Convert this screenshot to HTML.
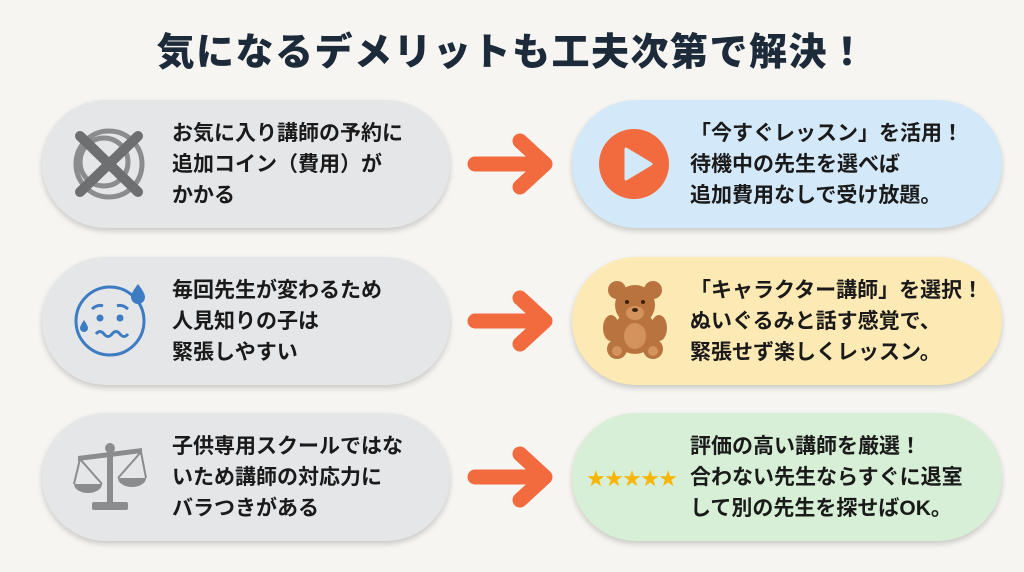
<!DOCTYPE html>
<html><head><meta charset="utf-8"><style>
body{margin:0;width:1024px;height:572px;background:#f6f5f1;overflow:hidden;position:relative;font-family:"Liberation Sans","Noto Sans CJK JP",sans-serif;}
.t{position:absolute;left:0;width:1024px;top:28px;text-align:center;font-size:38px;font-weight:900;color:#1c2a3a;letter-spacing:1.5px;line-height:50px;}
.p{position:absolute;height:128px;border-radius:64px;box-shadow:0 3px 6px rgba(0,0,0,.18);}
.l{left:42px;width:408px;background:#e5e6e8;}
.r{left:572px;width:430px;}
.tx{position:absolute;font-size:21px;font-weight:bold;color:#1a1a1a;line-height:31px;white-space:nowrap;}
svg{position:absolute;}
</style></head><body>
<div class="t">気になるデメリットも工夫次第で解決！</div>

<div class="p l" style="top:100px"></div>
<div class="p l" style="top:257px"></div>
<div class="p l" style="top:413px"></div>
<div class="p r" style="top:100px;background:#d3e8f8"></div>
<div class="p r" style="top:257px;background:#fde9b3"></div>
<div class="p r" style="top:413px;background:#d7eed7"></div>

<div class="tx" style="left:172px;top:118px">お気に入り講師の予約に<br>追加コイン（費用）が<br>かかる</div>
<div class="tx" style="left:172px;top:275px">毎回先生が変わるため<br>人見知りの子は<br>緊張しやすい</div>
<div class="tx" style="left:172px;top:431px">子供専用スクールではな<br>いため講師の対応力に<br>バラつきがある</div>
<div class="tx" style="left:690px;top:118px">「今すぐレッスン」を活用！<br>待機中の先生を選べば<br>追加費用なしで受け放題。</div>
<div class="tx" style="left:690px;top:275px">「キャラクター講師」を選択！<br>ぬいぐるみと話す感覚で、<br>緊張せず楽しくレッスン。</div>
<div class="tx" style="left:690px;top:431px">評価の高い講師を厳選！<br>合わない先生ならすぐに退室<br>して別の先生を探せばOK。</div>

<svg width="1024" height="572" style="left:0;top:0">
<g stroke="#f26b3e" stroke-width="15" stroke-linecap="round" stroke-linejoin="round" fill="none">
<path d="M475 164H543M520 141L545 164L520 187"/>
<path d="M475 321H543M520 298L545 321L520 344"/>
<path d="M475 477H543M520 454L545 477L520 500"/>
</g>
<g fill="none" stroke="#8b8c8e" stroke-width="5">
<circle cx="109" cy="164" r="33"/>
<circle cx="104" cy="162" r="24"/>
</g>
<g stroke="#6e6f71" stroke-width="10" stroke-linecap="round">
<path d="M80 136L138 192M138 136L80 192"/>
</g>
<g fill="none" stroke="#3d7cc2" stroke-width="3">
<circle cx="110" cy="321" r="34"/>
<path d="M92 309q6-5 11-3M128 309q-6-5-11-3"/>
<path d="M96 334q4-5 8 0t8 0t8 0t8 0"/>
</g>
<g fill="#3d7cc2"><circle cx="100" cy="318" r="3.5"/><circle cx="120" cy="318" r="3.5"/>
<path d="M138 284q-7 9-7 13a7 7 0 0 0 14 0q0-4-7-13z"/><path d="M84 320q-4 6-4 8a4 4 0 0 0 8 0q0-2-4-8z"/></g>
<g fill="#8b8c8e"><rect x="107" y="448" width="6" height="58"/><rect x="92" y="502" width="36" height="8" rx="2"/>
<path d="M78 456L142 448L142 453L78 461z"/><circle cx="110" cy="448" r="5"/>
<path d="M74 484h28a14 9 0 0 1-28 0z"/><path d="M118 478h28a14 9 0 0 1-28 0z"/></g>
<g stroke="#8b8c8e" stroke-width="2" fill="none"><path d="M80 459L74 484M80 459L102 484M141 452L118 478M141 452L146 478"/></g>
<circle cx="634" cy="164" r="35" fill="#f26b3e"/>
<path d="M626 149L651 164L626 179z" fill="#d3e8f8" stroke="#d3e8f8" stroke-width="3" stroke-linejoin="round"/>
<g fill="#b8733f"><circle cx="617" cy="290" r="9"/><circle cx="653" cy="290" r="9"/>
<ellipse cx="635" cy="332" rx="21" ry="22"/><ellipse cx="611" cy="328" rx="8" ry="13"/><ellipse cx="659" cy="328" rx="8" ry="13"/>
<circle cx="617" cy="349" r="10"/><circle cx="653" cy="349" r="10"/><circle cx="635" cy="305" r="20"/></g>
<g fill="#d4925c"><ellipse cx="635" cy="313" rx="9" ry="7"/><ellipse cx="635" cy="336" rx="11" ry="13"/><circle cx="617" cy="351" r="5"/><circle cx="653" cy="351" r="5"/></g>
<g fill="#3a2210"><circle cx="627" cy="302" r="2"/><circle cx="643" cy="302" r="2"/><ellipse cx="635" cy="310" rx="3" ry="2"/></g>
<g fill="#f7b500" font-size="22" font-family="DejaVu Sans"><text x="586" y="486" textLength="92" lengthAdjust="spacing">★★★★★</text></g>
</svg>
</body></html>
